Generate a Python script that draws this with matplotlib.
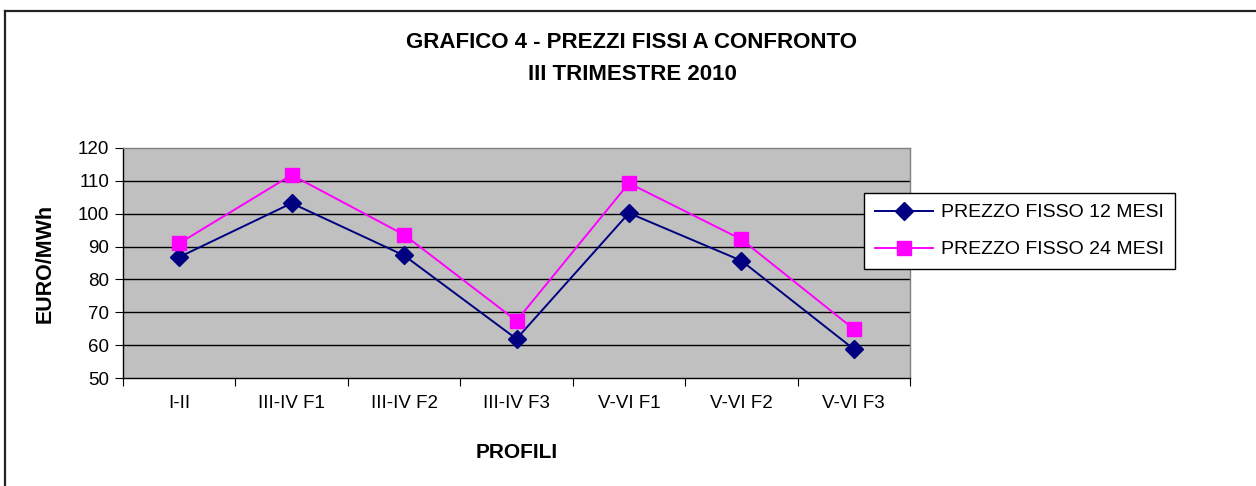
import matplotlib
matplotlib.use("Agg")
import matplotlib.pyplot as plt
from matplotlib.lines import Line2D

categories = ["I-II", "III-IV F1", "III-IV F2", "III-IV F3", "V-VI F1", "V-VI F2", "V-VI F3"]
prezzo_12 = [86.8, 103.2, 87.3, 61.9, 100.2, 85.7, 58.8]
prezzo_24 = [91.0, 111.8, 93.6, 67.4, 109.3, 92.2, 64.9]
series_names = ["PREZZO FISSO 12 MESI", "PREZZO FISSO 24 MESI"]
yticks = [50, 60, 70, 80, 90, 100, 110, 120]

plt.rcParams['font.family'] = ['Liberation Sans', 'DejaVu Sans']

W, H = 1256, 486
fig = plt.figure(figsize=(W / 100, H / 100), dpi=100)
fig.patch.set_facecolor("white")

# outer chart border (only top and left visible)
fig.add_artist(Line2D([5 / W, 1.0], [1 - 11 / H, 1 - 11 / H], transform=fig.transFigure, color="#222222", lw=1.6))
fig.add_artist(Line2D([5 / W, 5 / W], [0.0, 1 - 11 / H], transform=fig.transFigure, color="#222222", lw=1.6))

ax = fig.add_axes([123 / W, 1 - 378 / H, 787 / W, 230 / H])
ax.set_facecolor("#c0c0c0")

x = list(range(len(categories)))
ax.plot(x, prezzo_12, color="#000080", lw=1.4, marker="D", markersize=9,
        markerfacecolor="#000080", markeredgecolor="#000080", label=series_names[0], zorder=4)
ax.plot(x, prezzo_24, color="#ff00ff", lw=1.4, marker="s", markersize=10,
        markerfacecolor="#ff00ff", markeredgecolor="#ff00ff", label=series_names[1], zorder=4)

ax.set_xlim(-0.5, len(categories) - 0.5)
ax.set_ylim(50, 120)
ax.set_yticks(yticks)
ax.set_yticklabels([str(v) for v in yticks], fontsize=13.5)
for v in yticks[1:-1]:
    ax.axhline(v, color="black", lw=1.0, zorder=1)

ax.set_xticks(x)
ax.set_xticklabels(categories, fontsize=13.5)
ax.tick_params(axis="x", length=0, pad=12)
ax.set_xticks([i - 0.5 for i in range(len(categories) + 1)], minor=True)
ax.tick_params(axis="x", which="minor", length=6, direction="out", color="black", width=0.8)
ax.tick_params(axis="y", length=6, direction="out", color="black", width=0.8, pad=4)

for side in ["top", "right"]:
    ax.spines[side].set_color("#808080")
    ax.spines[side].set_linewidth(1.0)
for side in ["left", "bottom"]:
    ax.spines[side].set_color("black")
    ax.spines[side].set_linewidth(1.0)

ax.set_ylabel("EURO/MWh", fontsize=15.5, fontweight="bold")
ax.yaxis.set_label_coords(-0.085, 0.5)
fig.text(517 / W, 1 - 452 / H, "PROFILI", ha="center", va="center", fontsize=15, fontweight="bold")

fig.text(632 / W, 1 - 42 / H, "GRAFICO 4 - PREZZI FISSI A CONFRONTO", ha="center", va="center",
         fontsize=16, fontweight="bold")
fig.text(632 / W, 1 - 75 / H, "III TRIMESTRE 2010", ha="center", va="center",
         fontsize=16, fontweight="bold")

leg = fig.legend(loc="upper left", bbox_to_anchor=(864 / W, 1 - 193 / H), fontsize=14,
                 frameon=True, fancybox=False, framealpha=1, edgecolor="black",
                 borderaxespad=0, handlelength=3.0, labelspacing=1.0, borderpad=0.55,
                 handletextpad=0.4)
leg.get_frame().set_linewidth(1.0)

fig.savefig("out.png", dpi=100, facecolor="white")
